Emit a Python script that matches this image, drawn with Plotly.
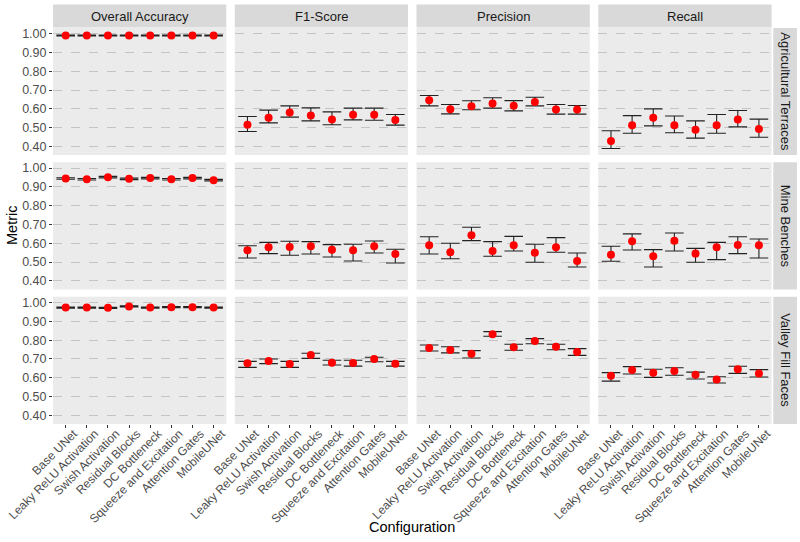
import plotly.graph_objects as go

configs = ["Base UNet", "Leaky ReLU Activation", "Swish Activation", "Residual Blocks",
           "DC Bottleneck", "Squeeze and Excitation", "Attention Gates", "MobileUNet"]
metrics = ["Overall Accuracy", "F1-Score", "Precision", "Recall"]
classes = ["Agricultural Terraces", "Mine Benches", "Valley Fill Faces"]
y_ticks = [0.40, 0.50, 0.60, 0.70, 0.80, 0.90, 1.00]

# Agricultural Terraces
at_oa = [0.991, 0.991, 0.991, 0.991, 0.991, 0.991, 0.991, 0.991]
at_oa_lo = [0.988, 0.988, 0.988, 0.988, 0.988, 0.988, 0.988, 0.988]
at_oa_hi = [0.993, 0.993, 0.993, 0.993, 0.993, 0.993, 0.993, 0.993]
at_f1 = [0.515, 0.552, 0.580, 0.564, 0.543, 0.568, 0.568, 0.540]
at_f1_lo = [0.479, 0.525, 0.556, 0.536, 0.515, 0.541, 0.539, 0.513]
at_f1_hi = [0.559, 0.593, 0.616, 0.605, 0.584, 0.604, 0.604, 0.570]
at_pr = [0.646, 0.598, 0.614, 0.628, 0.616, 0.637, 0.596, 0.596]
at_pr_lo = [0.616, 0.573, 0.595, 0.604, 0.589, 0.616, 0.572, 0.572]
at_pr_hi = [0.671, 0.623, 0.643, 0.659, 0.644, 0.662, 0.623, 0.618]
at_re = [0.428, 0.513, 0.552, 0.513, 0.488, 0.513, 0.543, 0.493]
at_re_lo = [0.389, 0.470, 0.509, 0.473, 0.444, 0.470, 0.504, 0.449]
at_re_hi = [0.483, 0.564, 0.600, 0.562, 0.536, 0.570, 0.591, 0.545]

# Mine Benches
mb_oa = [0.945, 0.941, 0.952, 0.943, 0.947, 0.941, 0.947, 0.936]
mb_oa_lo = [0.941, 0.937, 0.948, 0.939, 0.943, 0.937, 0.943, 0.932]
mb_oa_hi = [0.949, 0.945, 0.956, 0.947, 0.951, 0.945, 0.951, 0.940]
mb_f1 = [0.563, 0.579, 0.580, 0.584, 0.566, 0.563, 0.584, 0.543]
mb_f1_lo = [0.522, 0.545, 0.536, 0.543, 0.527, 0.506, 0.548, 0.495]
mb_f1_hi = [0.587, 0.605, 0.611, 0.609, 0.593, 0.595, 0.612, 0.568]
mb_pr = [0.589, 0.552, 0.643, 0.559, 0.589, 0.550, 0.579, 0.506]
mb_pr_lo = [0.543, 0.518, 0.614, 0.531, 0.559, 0.499, 0.552, 0.474]
mb_pr_hi = [0.635, 0.600, 0.685, 0.609, 0.637, 0.595, 0.630, 0.548]
mb_re = [0.539, 0.611, 0.531, 0.614, 0.545, 0.579, 0.591, 0.589]
mb_re_lo = [0.504, 0.564, 0.474, 0.559, 0.499, 0.513, 0.545, 0.522]
mb_re_hi = [0.584, 0.650, 0.566, 0.655, 0.573, 0.605, 0.635, 0.623]

# Valley Fill Faces
vf_oa = [0.973, 0.973, 0.972, 0.979, 0.973, 0.975, 0.975, 0.973]
vf_oa_lo = [0.970, 0.970, 0.969, 0.976, 0.970, 0.972, 0.972, 0.970]
vf_oa_hi = [0.976, 0.976, 0.975, 0.982, 0.976, 0.978, 0.978, 0.976]
vf_f1 = [0.677, 0.689, 0.673, 0.721, 0.680, 0.679, 0.700, 0.675]
vf_f1_lo = [0.655, 0.675, 0.655, 0.703, 0.668, 0.662, 0.685, 0.662]
vf_f1_hi = [0.687, 0.700, 0.687, 0.730, 0.693, 0.693, 0.709, 0.687]
vf_pr = [0.758, 0.748, 0.728, 0.831, 0.762, 0.796, 0.765, 0.737]
vf_pr_lo = [0.742, 0.732, 0.705, 0.821, 0.746, 0.781, 0.749, 0.719]
vf_pr_hi = [0.774, 0.765, 0.744, 0.845, 0.778, 0.808, 0.778, 0.755]
vf_re = [0.611, 0.641, 0.627, 0.636, 0.616, 0.591, 0.645, 0.623]
vf_re_lo = [0.582, 0.620, 0.602, 0.613, 0.593, 0.572, 0.623, 0.604]
vf_re_hi = [0.627, 0.659, 0.645, 0.653, 0.630, 0.605, 0.661, 0.643]

grid = [
    [(at_oa, at_oa_lo, at_oa_hi), (at_f1, at_f1_lo, at_f1_hi), (at_pr, at_pr_lo, at_pr_hi), (at_re, at_re_lo, at_re_hi)],
    [(mb_oa, mb_oa_lo, mb_oa_hi), (mb_f1, mb_f1_lo, mb_f1_hi), (mb_pr, mb_pr_lo, mb_pr_hi), (mb_re, mb_re_lo, mb_re_hi)],
    [(vf_oa, vf_oa_lo, vf_oa_hi), (vf_f1, vf_f1_lo, vf_f1_hi), (vf_pr, vf_pr_lo, vf_pr_hi), (vf_re, vf_re_lo, vf_re_hi)],
]

W, H = 800, 542
col_px = [(53, 226.3), (234.8, 408), (416.5, 589.8), (598.3, 771.6)]
row_px = [(28, 155), (162.3, 289.5), (296.7, 424)]
FONT = "Liberation Sans, Arial, sans-serif"

fig = go.Figure()
layout = dict(width=W, height=H, margin=dict(l=0, r=0, t=0, b=0, autoexpand=False),
              paper_bgcolor="white", plot_bgcolor="#EBEBEB", showlegend=False,
              font=dict(family=FONT, color="#4D4D4D"))
shapes, annotations = [], []

k = 0
for r in range(3):
    for c in range(4):
        k += 1
        xa = "xaxis" if k == 1 else f"xaxis{k}"
        ya = "yaxis" if k == 1 else f"yaxis{k}"
        xr = "x" if k == 1 else f"x{k}"
        yr = "y" if k == 1 else f"y{k}"
        mean, lo, hi = grid[r][c]
        plus = [h - m for h, m in zip(hi, mean)]
        minus = [m - l for m, l in zip(mean, lo)]
        fig.add_trace(go.Scatter(
            x=configs, y=mean, mode="markers", xaxis=xr, yaxis=yr,
            marker=dict(color="red", size=8),
            error_y=dict(type="data", symmetric=False, array=plus, arrayminus=minus,
                         color="#222222", thickness=1.1, width=9.3),
            hoverinfo="skip"))
        x0, x1 = col_px[c]
        y0, y1 = row_px[r]
        layout[xa] = dict(domain=[x0 / W, x1 / W], anchor=yr, type="category",
                          categoryorder="array", categoryarray=configs,
                          range=[-0.6, 7.6], showgrid=False, zeroline=False,
                          showticklabels=(r == 2), ticks="outside" if r == 2 else "",
                          ticklen=3, tickcolor="#333333", tickwidth=1,
                          tickangle=-45, tickfont=dict(size=12, color="#4D4D4D", family=FONT),
                          ticklabelshift=8, ticklabelstandoff=-6,
                          showline=False, fixedrange=True, automargin=False)
        layout[ya] = dict(domain=[1 - y1 / H, 1 - y0 / H], anchor=xr,
                          range=[0.354, 1.031], tickvals=y_ticks,
                          ticktext=[f"{v:.2f}" for v in y_ticks],
                          showgrid=True, gridcolor="#C4C4C4", gridwidth=1, griddash="dash",
                          zeroline=False, showticklabels=(c == 0),
                          ticks="outside" if c == 0 else "", ticklen=3,
                          tickcolor="#333333", tickwidth=1,
                          tickfont=dict(size=12.5, color="#4D4D4D", family=FONT),
                          showline=False, fixedrange=True, automargin=False)

# top strips
for c, m in enumerate(metrics):
    x0, x1 = col_px[c]
    shapes.append(dict(type="rect", xref="paper", yref="paper",
                       x0=x0 / W, x1=x1 / W, y0=1 - 27.5 / H, y1=1 - 4.5 / H,
                       fillcolor="#D9D9D9", line=dict(width=0), layer="below"))
    annotations.append(dict(text=m, xref="paper", yref="paper",
                            x=(x0 + x1) / 2 / W, y=1 - 16 / H, showarrow=False,
                            font=dict(size=13, color="#1A1A1A", family=FONT),
                            xanchor="center", yanchor="middle"))
# right strips
for r, cl in enumerate(classes):
    y0, y1 = row_px[r]
    shapes.append(dict(type="rect", xref="paper", yref="paper",
                       x0=773.3 / W, x1=797 / W, y0=1 - y1 / H, y1=1 - y0 / H,
                       fillcolor="#D9D9D9", line=dict(width=0), layer="below"))
    annotations.append(dict(text=cl, xref="paper", yref="paper",
                            x=785.2 / W, y=1 - (y0 + y1) / 2 / H, showarrow=False,
                            textangle=90,
                            font=dict(size=13, color="#1A1A1A", family=FONT),
                            xanchor="center", yanchor="middle"))

annotations.append(dict(text="Metric", xref="paper", yref="paper", x=12 / W,
                        y=1 - 226 / H, showarrow=False, textangle=-90,
                        font=dict(size=14.5, color="black", family=FONT),
                        xanchor="center", yanchor="middle"))
annotations.append(dict(text="Configuration", xref="paper", yref="paper",
                        x=412 / W, y=1 - 527 / H, showarrow=False,
                        font=dict(size=14.5, color="black", family=FONT),
                        xanchor="center", yanchor="middle"))

layout["shapes"] = shapes
layout["annotations"] = annotations
fig.update_layout(**layout)
fig.write_html("out.html")
